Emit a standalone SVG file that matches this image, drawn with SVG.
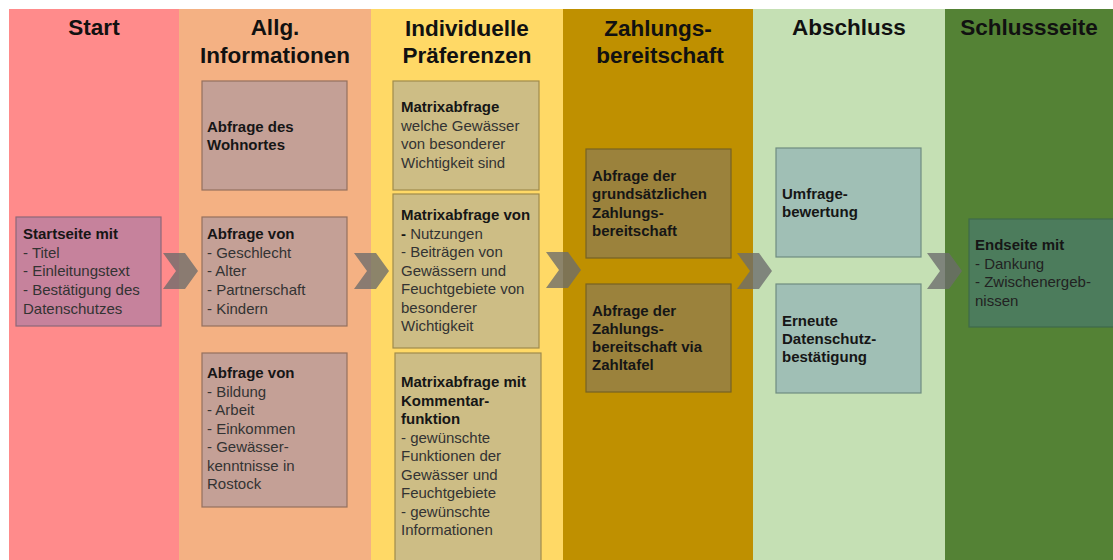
<svg xmlns="http://www.w3.org/2000/svg" width="1113" height="560" viewBox="0 0 1113 560">
  <style>
    .hd { font-family: "Liberation Sans", Arial, sans-serif; font-size: 22.5px; font-weight: bold; fill: #111; text-anchor: middle; }
    .tx { font-family: "Liberation Sans", Arial, sans-serif; font-size: 15px; fill: #333; }
    .b { font-weight: bold; fill: #161616; }
    .box { stroke-width: 1.2; }
    .chev { fill: #6c6c6c; fill-opacity: 0.78; }
  </style>
  <defs>
    <!-- chevron connector, origin at its top-left corner -->
    <polygon id="chevron" points="0,0 22,0 35,18 22,36 0,36 13,18"/>
  </defs>
  <rect width="1113" height="560" fill="#ffffff"/>

  <!-- phase columns -->
  <g id="columns">
    <rect x="9" y="9" width="170" height="551" fill="#ff8b8b"/>
    <rect x="179" y="9" width="192" height="551" fill="#f4b183"/>
    <rect x="371" y="9" width="192" height="551" fill="#ffd966"/>
    <rect x="563" y="9" width="190" height="551" fill="#bf9000"/>
    <rect x="753" y="9" width="192" height="551" fill="#c5e0b4"/>
    <rect x="945" y="9" width="168" height="551" fill="#548235"/>
  </g>

  <!-- phase headings -->
  <g id="headings">
    <text class="hd" x="94" y="35">Start</text>
    <text class="hd" x="275" y="35">Allg.</text>
    <text class="hd" x="275" y="63">Informationen</text>
    <text class="hd" x="467" y="36">Individuelle</text>
    <text class="hd" x="467" y="63">Präferenzen</text>
    <text class="hd" x="658" y="36">Zahlungs-</text>
    <text class="hd" x="660" y="63">bereitschaft</text>
    <text class="hd" x="849" y="35">Abschluss</text>
    <text class="hd" x="1029" y="35">Schlussseite</text>
  </g>

  <!-- connectors -->
  <g id="connectors">
    <use href="#chevron" class="chev" x="163" y="253"/>
    <use href="#chevron" class="chev" x="354" y="253"/>
    <use href="#chevron" class="chev" x="546" y="252"/>
    <use href="#chevron" class="chev" x="737" y="253"/>
    <use href="#chevron" class="chev" x="927" y="253"/>
  </g>

  <g id="start-page">
    <rect class="box" x="16" y="217" width="145" height="109" fill="#c6829c" stroke="#8d6878"/>
    <text class="tx" x="23" y="239"><tspan class="b">Startseite mit</tspan><tspan x="23" dy="18.7">- Titel</tspan><tspan x="23" dy="18.7">- Einleitungstext</tspan><tspan x="23" dy="18.7">- Bestätigung des</tspan><tspan x="23" dy="18.7">Datenschutzes</tspan></text>
  </g>

  <g id="residence">
    <rect class="box" x="202" y="81" width="145" height="109" fill="#c4a096" stroke="#94705e"/>
    <text class="tx b" x="207" y="132">Abfrage des<tspan x="207" dy="18">Wohnortes</tspan></text>
  </g>

  <g id="demographics">
    <rect class="box" x="202" y="217" width="145" height="109" fill="#c4a096" stroke="#94705e"/>
    <text class="tx" x="207" y="239"><tspan class="b">Abfrage von</tspan><tspan x="207" dy="18.7">- Geschlecht</tspan><tspan x="207" dy="18.7">- Alter</tspan><tspan x="207" dy="18.7">- Partnerschaft</tspan><tspan x="207" dy="18.7">- Kindern</tspan></text>
  </g>

  <g id="socioeconomics">
    <rect class="box" x="202" y="353" width="145" height="154" fill="#c4a096" stroke="#94705e"/>
    <text class="tx" x="207" y="378"><tspan class="b">Abfrage von</tspan><tspan x="207" dy="18.5">- Bildung</tspan><tspan x="207" dy="18.5">- Arbeit</tspan><tspan x="207" dy="18.5">- Einkommen</tspan><tspan x="207" dy="18.5">- Gewässer-</tspan><tspan x="207" dy="18.5">kenntnisse in</tspan><tspan x="207" dy="18.5">Rostock</tspan></text>
  </g>

  <g id="matrix-waters">
    <rect class="box" x="393" y="81" width="146" height="109" fill="#cdbd85" stroke="#a08b4c"/>
    <text class="tx" x="401" y="112"><tspan class="b">Matrixabfrage</tspan><tspan x="401" dy="18.7">welche Gewässer</tspan><tspan x="401" dy="18.7">von besonderer</tspan><tspan x="401" dy="18.7">Wichtigkeit sind</tspan></text>
  </g>

  <g id="matrix-uses">
    <rect class="box" x="393" y="194" width="146" height="154" fill="#cdbd85" stroke="#a08b4c"/>
    <text class="tx" x="401" y="220"><tspan class="b">Matrixabfrage von</tspan><tspan x="401" dy="18.5" class="b">-</tspan><tspan> Nutzungen</tspan><tspan x="401" dy="18.5">- Beiträgen von</tspan><tspan x="401" dy="18.5">Gewässern und</tspan><tspan x="401" dy="18.5">Feuchtgebiete von</tspan><tspan x="401" dy="18.5">besonderer</tspan><tspan x="401" dy="18.5">Wichtigkeit</tspan></text>
  </g>

  <g id="matrix-comments">
    <rect class="box" x="395" y="353" width="146" height="215" fill="#cdbd85" stroke="#a08b4c"/>
    <text class="tx" x="401" y="387"><tspan class="b">Matrixabfrage mit</tspan><tspan x="401" dy="18.5" class="b">Kommentar-</tspan><tspan x="401" dy="18.5" class="b">funktion</tspan><tspan x="401" dy="18.5">- gewünschte</tspan><tspan x="401" dy="18.5">Funktionen der</tspan><tspan x="401" dy="18.5">Gewässer und</tspan><tspan x="401" dy="18.5">Feuchtgebiete</tspan><tspan x="401" dy="18.5">- gewünschte</tspan><tspan x="401" dy="18.5">Informationen</tspan></text>
  </g>

  <g id="wtp-basic">
    <rect class="box" x="586" y="149" width="145" height="109" fill="#9b823c" stroke="#766223"/>
    <text class="tx b" x="592" y="181">Abfrage der<tspan x="592" dy="18.3">grundsätzlichen</tspan><tspan x="592" dy="18.3">Zahlungs-</tspan><tspan x="592" dy="18.3">bereitschaft</tspan></text>
  </g>

  <g id="wtp-card">
    <rect class="box" x="586" y="284" width="145" height="108" fill="#9b823c" stroke="#766223"/>
    <text class="tx b" x="592" y="316">Abfrage der<tspan x="592" dy="18">Zahlungs-</tspan><tspan x="592" dy="18">bereitschaft via</tspan><tspan x="592" dy="18">Zahltafel</tspan></text>
  </g>

  <g id="survey-rating">
    <rect class="box" x="776" y="148" width="145" height="109" fill="#a0bfb5" stroke="#6f8c80"/>
    <text class="tx b" x="782" y="199">Umfrage-<tspan x="782" dy="18">bewertung</tspan></text>
  </g>

  <g id="privacy-confirmation">
    <rect class="box" x="776" y="284" width="145" height="109" fill="#a0bfb5" stroke="#6f8c80"/>
    <text class="tx b" x="782" y="326">Erneute<tspan x="782" dy="18">Datenschutz-</tspan><tspan x="782" dy="18">bestätigung</tspan></text>
  </g>

  <g id="end-page">
    <rect class="box" x="969" y="219" width="150" height="108" fill="#4c7c5c" stroke="#3e6a4a"/>
    <text class="tx" x="975" y="250" fill="#1e2a22"><tspan class="b" fill="#111">Endseite mit</tspan><tspan x="975" dy="18.5" fill="#222">- Dankung</tspan><tspan x="975" dy="18.5" fill="#222">- Zwischenergeb-</tspan><tspan x="975" dy="18.5" fill="#222">nissen</tspan></text>
  </g>
</svg>
